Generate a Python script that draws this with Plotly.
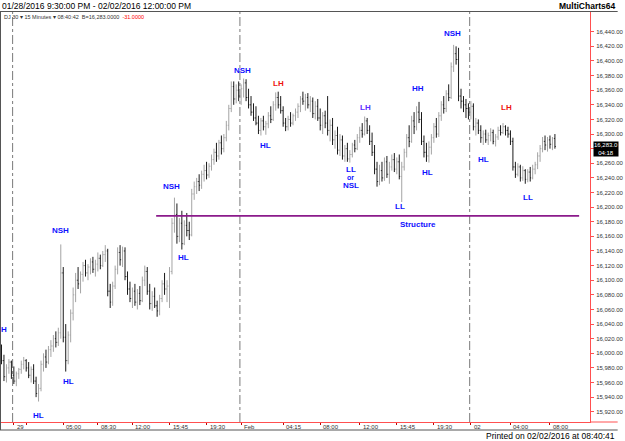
import pandas as pd
import plotly.graph_objects as go

# ---------------- data ----------------
sessions = [("2016-01-28 21:45", "2016-01-28 22:45"),
            ("2016-01-29 00:00", "2016-01-29 22:45"),
            ("2016-02-01 00:00", "2016-02-01 23:00"),
            ("2016-02-02 00:00", "2016-02-02 08:30")]

open_ = [16000,15990,15968,15980,15988,15970,15962,15972,15978,15985,15990,15980,15970,15978,15962,
         15945,15952,15985,15995,15988,16005,16010,16020,16015,16028,16110,16022,15990,16025,16055,
         16080,16100,16095,16108,16120,16110,16118,16125,16115,16122,16130,16120,16135,16140,16085,
         16070,16092,16115,16138,16128,16140,16105,16088,16075,16085,16070,16082,16072,16100,16112,
         16085,16068,16078,16065,16058,16075,16095,16088,16092,16112,16178,16190,16160,16178,16150,
         16175,16168,16162,16218,16228,16235,16230,16245,16250,16244,16256,16265,16275,16270,16288,
         16280,16295,16312,16335,16365,16348,16360,16352,16362,16370,16350,16340,16330,16322,16315,
         16305,16318,16310,16314,16325,16320,16340,16350,16340,16332,16315,16310,16320,16315,16325,
         16330,16338,16348,16345,16350,16340,16345,16328,16338,16322,16312,16325,16315,16305,16312,
         16292,16298,16278,16292,16270,16280,16266,16272,16285,16280,16295,16305,16300,16318,16305,
         16290,16275,16252,16235,16250,16240,16262,16245,16255,16265,16252,16262,16242,16255,16275,
         16295,16290,16318,16310,16330,16320,16290,16275,16270,16282,16295,16310,16300,16325,16340,
         16335,16355,16350,16392,16410,16402,16352,16345,16340,16335,16330,16338,16310,16315,16305,
         16295,16300,16292,16298,16302,16290,16296,16305,16302,16310,16305,16300,16290,16255,16245,
         16255,16240,16250,16238,16248,16240,16252,16258,16270,16280,16290,16285,16292,16286,16294]

high = [16012,15998,15985,15992,15990,15982,15975,15980,15990,15995,15992,15988,15982,15985,15968,
        15958,15990,16000,16005,16010,16018,16025,16030,16035,16149,16118,16040,16030,16060,16090,
        16110,16118,16112,16125,16128,16122,16130,16132,16128,16138,16135,16140,16148,16143,16095,
        16098,16120,16145,16148,16146,16145,16112,16098,16090,16095,16088,16092,16105,16120,16118,
        16095,16085,16090,16072,16080,16100,16110,16100,16118,16185,16213,16205,16185,16195,16182,
        16192,16180,16225,16235,16240,16245,16250,16258,16262,16260,16272,16280,16288,16292,16298,
        16300,16318,16340,16372,16372,16368,16372,16368,16376,16375,16362,16352,16342,16338,16325,
        16322,16325,16318,16330,16338,16345,16357,16358,16352,16338,16322,16325,16330,16328,16335,
        16342,16352,16358,16355,16356,16352,16350,16345,16348,16335,16330,16332,16352,16320,16322,
        16305,16310,16300,16298,16285,16288,16278,16288,16292,16300,16310,16315,16324,16322,16312,
        16302,16285,16262,16258,16262,16268,16270,16262,16272,16274,16268,16272,16262,16280,16300,
        16312,16325,16330,16338,16344,16330,16298,16288,16290,16300,16315,16322,16330,16345,16352,
        16360,16368,16398,16422,16420,16418,16362,16352,16348,16342,16345,16342,16322,16320,16312,
        16305,16306,16302,16308,16306,16300,16310,16312,16315,16312,16310,16305,16295,16262,16260,
        16258,16256,16252,16252,16255,16258,16262,16275,16285,16296,16298,16296,16298,16296,16300]

low = [15985,15962,15960,15972,15965,15958,15955,15965,15972,15978,15975,15966,15960,15958,15940,
       15934,15948,15975,15980,15985,15995,16002,16008,16010,16020,16015,15975,15985,16015,16045,
       16070,16088,16082,16098,16105,16100,16108,16110,16105,16112,16115,16118,16125,16078,16062,
       16065,16088,16108,16120,16118,16100,16080,16070,16062,16065,16060,16066,16070,16092,16080,
       16060,16058,16062,16050,16052,16070,16080,16070,16062,16108,16165,16150,16152,16142,16148,
       16160,16155,16160,16210,16218,16222,16225,16235,16238,16240,16250,16258,16262,16265,16272,
       16275,16290,16305,16330,16340,16342,16345,16340,16350,16345,16335,16325,16318,16312,16300,
       16298,16305,16299,16308,16315,16318,16332,16335,16328,16310,16304,16305,16310,16312,16318,
       16322,16330,16340,16332,16335,16330,16322,16320,16318,16305,16300,16308,16298,16290,16285,
       16280,16272,16270,16265,16262,16262,16261,16268,16275,16278,16288,16295,16298,16300,16285,
       16270,16245,16228,16230,16235,16236,16240,16232,16250,16248,16245,16238,16207,16250,16268,
       16282,16288,16300,16305,16315,16285,16268,16262,16261,16272,16288,16295,16296,16318,16328,
       16330,16345,16348,16385,16395,16345,16335,16330,16322,16320,16320,16305,16298,16300,16288,
       16285,16288,16285,16290,16286,16283,16292,16298,16300,16298,16295,16285,16250,16240,16242,
       16235,16236,16232,16234,16235,16238,16245,16252,16262,16275,16278,16276,16280,16278,16280]

close = [15990,15968,15980,15988,15970,15962,15972,15978,15985,15990,15980,15970,15978,15962,15945,
         15952,15985,15995,15988,16005,16010,16020,16015,16028,16110,16022,15990,16025,16055,16080,
         16100,16095,16108,16120,16110,16118,16125,16115,16122,16130,16120,16135,16140,16085,16070,
         16092,16115,16138,16128,16140,16105,16088,16075,16085,16070,16082,16072,16100,16112,16085,
         16068,16078,16065,16058,16075,16095,16088,16092,16112,16178,16190,16160,16178,16150,16175,
         16168,16162,16218,16228,16235,16230,16245,16250,16244,16256,16265,16275,16270,16288,16280,
         16295,16312,16335,16365,16348,16360,16352,16362,16370,16350,16340,16330,16322,16315,16305,
         16318,16310,16314,16325,16320,16340,16350,16340,16332,16315,16310,16320,16315,16325,16330,
         16338,16348,16345,16350,16340,16345,16328,16338,16322,16312,16325,16315,16305,16312,16292,
         16298,16278,16292,16270,16280,16266,16272,16285,16280,16295,16305,16300,16318,16305,16290,
         16275,16252,16235,16250,16240,16262,16245,16255,16265,16252,16262,16242,16255,16275,16295,
         16290,16318,16310,16330,16320,16290,16275,16270,16282,16295,16310,16300,16325,16340,16335,
         16355,16350,16392,16410,16402,16352,16345,16340,16335,16330,16338,16310,16315,16305,16295,
         16300,16292,16298,16302,16290,16296,16305,16302,16310,16305,16300,16290,16255,16245,16255,
         16240,16250,16238,16248,16240,16252,16258,16270,16280,16290,16285,16292,16286,16294,16283]

tick_times = ["01/29 00:00", "01/29 01:15", "01/29 05:00", "01/29 08:30", "01/29 12:00",
              "01/29 15:45", "01/29 19:30", "02/01 00:00", "02/01 04:15", "02/01 08:00",
              "02/01 12:00", "02/01 15:45", "02/01 19:30", "02/02 00:00", "02/02 04:00",
              "02/02 08:00"]
tick_text = ["29", "", "05:00", "08:30", "12:00", "15:45", "19:30", "Feb", "04:15", "08:00",
             "12:00", "15:45", "19:30", "02", "04:00", "08:00"]

y_ticks = [15920, 15940, 15960, 15980, 16000, 16020, 16040, 16060, 16080, 16100, 16120, 16140,
           16160, 16180, 16200, 16220, 16240, 16260, 16280, 16300, 16320, 16340, 16360, 16380,
           16400, 16420, 16440]
y_hidden = [16280]  # covered by the last-price tag

lab_text = ["HL", "NSH", "HL", "NSH", "HL", "NSH", "LH", "HL", "LH", "LL", "or", "NSL",
            "LL", "HH", "HL", "NSH", "HL", "LH", "LL", "Structure"]
lab_bar = [15, 23.8, 27, 69, 73.8, 97.4, 112.2, 107, 147.4, 141.4, 141.4, 141.4,
           161.4, 168.6, 172.6, 182.6, 195, 204.2, 213, 168.6]
lab_price = [15915, 16168, 15961, 16228, 16131, 16387, 16369, 16284, 16336, 16251, 16241, 16230,
             16201, 16363, 16248, 16437, 16265, 16336, 16213, 16176]
lab_kind = ["b", "b", "b", "b", "b", "b", "r", "b", "v", "b", "s", "b",
            "b", "b", "b", "b", "b", "r", "b", "b"]

structure_level = 16188
structure_from_bar = 62.6
structure_to_bar = 233.8

last_price = 16283
# --------------------------------------

times = pd.DatetimeIndex([])
for a, b in sessions:
    times = times.append(pd.date_range(a, b, freq="15min"))
xcat = [t.strftime("%m/%d %H:%M") for t in times]
n = len(xcat)

FONT = "Liberation Sans"
BLUE = "#1010ff"
colors = {"b": BLUE, "s": BLUE, "r": "#ee1111", "v": "#5a30ff"}
sizes = {"b": 8, "s": 7, "r": 8, "v": 8}

fig = go.Figure(go.Ohlc(
    x=xcat, open=open_, high=high, low=low, close=close,
    increasing=dict(line=dict(color="#a4a4a4", width=1)),
    decreasing=dict(line=dict(color="#1a1a1a", width=1)),
    tickwidth=0.35, hoverinfo="skip"))

# day separators
shapes = []
for k in range(1, n):
    if times[k].date() != times[k - 1].date():
        shapes.append(dict(type="line", xref="x", yref="paper", x0=k - 0.5, x1=k - 0.5,
                           y0=0, y1=1, line=dict(color="#7a7a7a", width=1, dash="dashdot"), layer="below"))
# structure line
shapes.append(dict(type="line", xref="x", yref="y", x0=structure_from_bar, x1=structure_to_bar,
                   y0=structure_level, y1=structure_level, line=dict(color="#8b1a8b", width=1.6)))

PW = 596.0
PH = 410.0
# frame lines
shapes.append(dict(type="line", xref="paper", yref="paper", x0=-1 / PW, x1=1 + 28 / PW,
                   y0=1 + 0.5 / PH, y1=1 + 0.5 / PH, line=dict(color="#555555", width=1)))
shapes.append(dict(type="line", xref="paper", yref="paper", x0=-1 / PW, x1=1 + 28 / PW,
                   y0=-8 / PH, y1=-8 / PH, line=dict(color="#555555", width=1)))
shapes.append(dict(type="line", xref="paper", yref="paper", x0=-0.5 / PW, x1=-0.5 / PW,
                   y0=-8 / PH, y1=1, line=dict(color="#555555", width=1)))
shapes.append(dict(type="line", xref="paper", yref="paper", x0=1, x1=1 + 28 / PW,
                   y0=0, y1=0, line=dict(color="#ff5050", width=1)))

ann = []
for t, xb, p, k in zip(lab_text, lab_bar, lab_price, lab_kind):
    ann.append(dict(x=xb, y=p, xref="x", yref="y", text="<b>%s</b>" % t, showarrow=False,
                    font=dict(family=FONT, size=sizes[k], color=colors[k]),
                    xanchor="center", yanchor="middle", borderpad=0))
# clipped label at left edge
ann.append(dict(x=0, y=16032, xref="paper", yref="y", text="<b>H</b>", showarrow=False,
                font=dict(family=FONT, size=8, color=BLUE), xanchor="left", yanchor="middle",
                xshift=-2))
# x tick labels (left aligned to tick)
for tt, tx in zip(tick_times, tick_text):
    if tx:
        ann.append(dict(x=tt, y=0, xref="x", yref="paper", text=tx, showarrow=False,
                        font=dict(family=FONT, size=6, color="#333333"),
                        xanchor="left", yanchor="middle", xshift=1, yshift=-5))
# header
ann.append(dict(x=0, y=1, xref="paper", yref="paper",
                text="01/28/2016 9:30:00 PM - 02/02/2016 12:00:00 PM", showarrow=False,
                font=dict(family=FONT, size=8.5, color="#000000"),
                xanchor="left", yanchor="middle", xshift=-1, yshift=6))
ann.append(dict(x=1, y=1, xref="paper", yref="paper", text="<b>MultiCharts64</b>",
                showarrow=False, font=dict(family=FONT, size=8.5, color="#000000"),
                xanchor="right", yanchor="middle", xshift=27, yshift=6))
ann.append(dict(x=0, y=1, xref="paper", yref="paper",
                text="DJ 30 ▾ 15 Minutes ▾ 08:40:42  B=16,283.0000  <span style='color:#ff0000'>-31.0000</span>",
                showarrow=False, font=dict(family=FONT, size=5.5, color="#333333"),
                xanchor="left", yanchor="middle", xshift=1, yshift=-5))
ann.append(dict(x=1, y=0, xref="paper", yref="paper", text="Printed on 02/02/2016 at 08:40:41",
                showarrow=False, font=dict(family=FONT, size=8.5, color="#000000"),
                xanchor="right", yanchor="middle", xshift=27, yshift=-14))
# last price tag
ann.append(dict(x=1, y=last_price, xref="paper", yref="y",
                text="%s<br>04:18" % format(last_price, ",.1f"), showarrow=False,
                font=dict(family=FONT, size=6, color="#ffffff"), bgcolor="#000000",
                borderpad=0, xanchor="left", yanchor="middle", xshift=3, yshift=-3,
                align="center"))

y_text = ["" if v in y_hidden else format(v, ",.2f") for v in y_ticks]

fig.update_layout(
    width=625, height=441,
    margin=dict(l=1, r=28, t=12, b=19),
    paper_bgcolor="white", plot_bgcolor="white",
    showlegend=False,
    shapes=shapes, annotations=ann,
    xaxis=dict(type="category", range=[-0.2, 238.2], rangeslider=dict(visible=False),
               showgrid=False, zeroline=False, showline=True, linecolor="#ff5050", linewidth=1,
               tickmode="array", tickvals=tick_times, ticktext=["" for _ in tick_times],
               ticks="outside", ticklen=2, tickcolor="#c00000", showticklabels=False,
               fixedrange=True),
    yaxis=dict(side="right", range=[15906, 16467], showgrid=False, zeroline=False,
               showline=True, linecolor="#ff5050", linewidth=1,
               tickmode="array", tickvals=y_ticks, ticktext=y_text,
               ticks="outside", ticklen=3,
               tickcolor="#ff5050", tickfont=dict(family=FONT, size=6, color="#333333"),
               ticklabelstandoff=1),
)

fig.write_html("out.html")
